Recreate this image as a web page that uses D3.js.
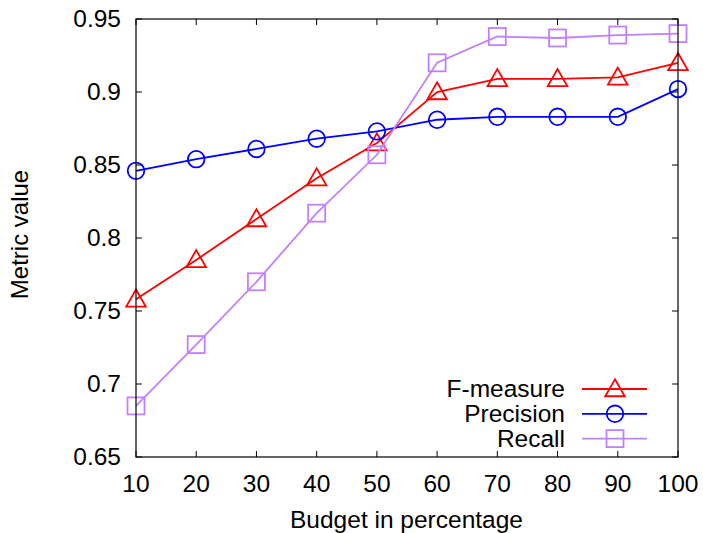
<!DOCTYPE html>
<html><head><meta charset="utf-8">
<script src="https://cdn.jsdelivr.net/npm/d3@7"></script>
<style>body{margin:0;background:#fff;} text{font-family:"Liberation Sans",Arial,sans-serif;}</style>
</head><body>
<svg id="c" width="703" height="533"></svg>
<script>
const budgets = [10,20,30,40,50,60,70,80,90,100];
const fmeasure = [0.758,0.785,0.813,0.841,0.865,0.900,0.909,0.909,0.910,0.920];
const precision = [0.846,0.854,0.861,0.868,0.873,0.881,0.883,0.883,0.883,0.902];
const recall = [0.685,0.727,0.770,0.817,0.857,0.920,0.938,0.937,0.939,0.940];
const yTicks = [0.65,0.7,0.75,0.8,0.85,0.9,0.95];
const yTickLabels = ["0.65","0.7","0.75","0.8","0.85","0.9","0.95"];
const seriesNames = ["F-measure","Precision","Recall"];

const svg = d3.select("#c");
const L=136, R=678, T=19, B=457;
const FS = 24.5;
const x = d3.scaleLinear().domain([10,100]).range([L,R]);
const y = d3.scaleLinear().domain([0.65,0.95]).range([B,T]);

const series = [
  {name:seriesNames[0], vals:fmeasure, color:"#ff0000", mk:"tri"},
  {name:seriesNames[1], vals:precision, color:"#0000ff", mk:"circ"},
  {name:seriesNames[2], vals:recall, color:"#c080ff", mk:"sq"}
];

// ticks inward on all sides
const tl = 6;
const g = svg.append("g");
budgets.forEach(b=>{
  g.append("line").attr("x1",x(b)).attr("x2",x(b)).attr("y1",B).attr("y2",B-tl).attr("stroke","#000");
  g.append("line").attr("x1",x(b)).attr("x2",x(b)).attr("y1",T).attr("y2",T+tl).attr("stroke","#000");
  g.append("text").attr("x",x(b)).attr("y",491.5).attr("text-anchor","middle").attr("font-size",FS).text(b);
});
yTicks.forEach((v,i)=>{
  g.append("line").attr("x1",L).attr("x2",L+tl).attr("y1",y(v)).attr("y2",y(v)).attr("stroke","#000");
  g.append("line").attr("x1",R).attr("x2",R-tl).attr("y1",y(v)).attr("y2",y(v)).attr("stroke","#000");
  g.append("text").attr("x",121).attr("y",y(v)+8).attr("text-anchor","end").attr("font-size",FS).text(yTickLabels[i]);
});

function marker(sel, mk, cx, cy, color){
  if(mk==="tri"){
    const h=8.5;
    sel.append("path").attr("d",`M${cx},${cy-h*1.15}L${cx+h*1.15},${cy+h*0.85}L${cx-h*1.15},${cy+h*0.85}Z`)
      .attr("fill","none").attr("stroke",color).attr("stroke-width",1.8);
  } else if(mk==="circ"){
    sel.append("circle").attr("cx",cx).attr("cy",cy).attr("r",8.3).attr("fill","none").attr("stroke",color).attr("stroke-width",1.8);
  } else {
    sel.append("rect").attr("x",cx-8.5).attr("y",cy-8.5).attr("width",17).attr("height",17).attr("fill","none").attr("stroke",color).attr("stroke-width",1.8);
  }
}

const line = d3.line().x((d,i)=>x(budgets[i])).y(d=>y(d));
series.forEach(s=>{
  svg.append("path").datum(s.vals).attr("d",line).attr("fill","none").attr("stroke",s.color).attr("stroke-width",1.8);
  s.vals.forEach((v,i)=>marker(svg,s.mk,x(budgets[i]),y(v),s.color));
});

// border
svg.append("rect").attr("x",L).attr("y",T).attr("width",R-L).attr("height",B-T).attr("fill","none").attr("stroke","#000").attr("stroke-width",1.2);

// legend
series.forEach((s,i)=>{
  const ly = 389 + i*24.8;
  svg.append("text").attr("x",565).attr("y",ly+8).attr("text-anchor","end").attr("font-size",FS).text(s.name);
  svg.append("line").attr("x1",582).attr("x2",647).attr("y1",ly).attr("y2",ly).attr("stroke",s.color).attr("stroke-width",1.8);
  marker(svg,s.mk,615,ly,s.color);
});

svg.append("text").attr("x",406.5).attr("y",528).attr("text-anchor","middle").attr("font-size",FS).text("Budget in percentage");
svg.append("text").attr("transform","translate(28,234.5) rotate(-90)").attr("text-anchor","middle").attr("font-size",24).text("Metric value");
</script>
</body></html>
